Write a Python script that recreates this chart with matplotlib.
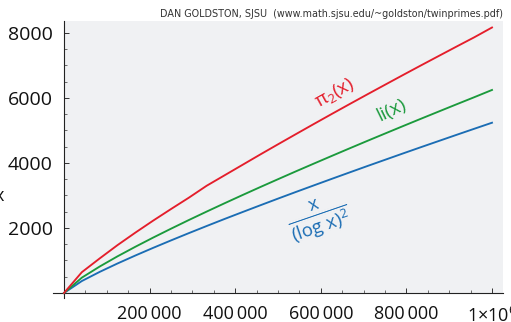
import matplotlib
matplotlib.use("Agg")
import matplotlib.pyplot as plt
from matplotlib.patches import Rectangle
from matplotlib.ticker import MultipleLocator, FixedLocator

# Sample points: x = k * 10^6 / 24, k = 0..24
x_vals = [0, 41667, 83333, 125000, 166667, 208333, 250000, 291667, 333333,
          375000, 416667, 458333, 500000, 541667, 583333, 625000, 666667,
          708333, 750000, 791667, 833333, 875000, 916667, 958333, 1000000]

# twin prime counting function pi_2(x)
pi2_vals = [0, 640, 1063, 1473, 1857, 2227, 2583, 2932, 3300, 3620, 3940,
            4260, 4575, 4887, 5197, 5504, 5808, 6109, 6407, 6704, 6998,
            7289, 7579, 7866, 8169]

# integral of dt/(log t)^2 from 2 to x
li_vals = [0, 472, 814, 1128, 1422, 1705, 1978, 2245, 2505, 2760, 3011,
           3258, 3501, 3742, 3979, 4214, 4447, 4678, 4906, 5133, 5358,
           5581, 5803, 6023, 6247]

# x / (log x)^2
xlog_vals = [0, 368, 649, 908, 1153, 1389, 1618, 1842, 2061, 2277, 2488,
             2697, 2904, 3108, 3309, 3509, 3707, 3904, 4098, 4292, 4484,
             4674, 4864, 5052, 5239]

y_ticks = [2000, 4000, 6000, 8000]
y_tick_labels = ["2000", "4000", "6000", "8000"]
x_ticks = [200000, 400000, 600000, 800000, 1000000]
x_tick_labels = ["200\u2009000", "400\u2009000", "600\u2009000", "800\u2009000",
                 r"$1{\times}10^6$"]

RED = "#e41e2b"
GREEN = "#1b9a3c"
BLUE = "#1b6db4"
PANEL = "#f0f1f3"

plt.rcParams["font.family"] = ["Open Sans", "DejaVu Sans"]
plt.rcParams["mathtext.fontset"] = "custom"
plt.rcParams["mathtext.rm"] = "Open Sans"
plt.rcParams["mathtext.it"] = "Open Sans"
plt.rcParams["mathtext.bf"] = "Open Sans:bold"

W, H = 511, 322
fig = plt.figure(figsize=(W / 100, H / 100), dpi=100)
ax = fig.add_axes([53 / W, (H - 298) / H, (503 - 53) / W, (298 - 21) / H])

xmin, xmax = -25700, 1025700
ymin, ymax = -154, 8369
ax.set_xlim(xmin, xmax)
ax.set_ylim(ymin, ymax)
ax.set_facecolor("white")
ax.add_patch(Rectangle((0, 0), xmax, ymax, facecolor=PANEL, edgecolor="none", zorder=0))

lw = 1.35
ax.plot(x_vals, xlog_vals, color=BLUE, lw=lw, zorder=3)
ax.plot(x_vals, li_vals, color=GREEN, lw=lw, zorder=3)
ax.plot(x_vals, pi2_vals, color=RED, lw=lw, zorder=3)

for side in ("top", "right"):
    ax.spines[side].set_visible(False)
ax.spines["left"].set_position(("data", 0))
ax.spines["bottom"].set_position(("data", 0))
for side in ("left", "bottom"):
    ax.spines[side].set_linewidth(0.8)
    ax.spines[side].set_color("#222222")

ax.yaxis.set_major_locator(FixedLocator(y_ticks))
ax.set_yticklabels(y_tick_labels)
ax.yaxis.set_minor_locator(MultipleLocator(500))
ax.xaxis.set_major_locator(FixedLocator(x_ticks))
ax.set_xticklabels(x_tick_labels)
ax.xaxis.set_minor_locator(MultipleLocator(50000))

ax.tick_params(axis="both", which="major", direction="in", length=3.5, width=0.7,
               color="#333333", labelsize=13, labelcolor="#111111")
ax.tick_params(axis="y", which="major", labelsize=14, pad=8)
ax.tick_params(axis="both", which="minor", direction="in", length=2.2, width=0.6,
               color="#555555")
ax.tick_params(axis="x", which="major", pad=9)

# curve labels
ax.text(633000, 6150, r"$\pi_2(x)$", color=RED, fontsize=13.5, rotation=29,
        ha="center", va="center")
ax.text(766000, 5630, "li(x)", color=GREEN, fontsize=13.5, rotation=26,
        ha="center", va="center")
ax.text(595000, 2300, r"$\frac{x}{(\log\,x)^2}$", color=BLUE, fontsize=19,
        rotation=19, ha="center", va="center")

# y-axis label at the left edge
fig.text(4 / W, 1 - 196 / H, "x", ha="right", va="center", fontsize=13,
         color="#111111")

# source credit
fig.text(503 / W, 1 - 14 / H,
         "DAN GOLDSTON, SJSU  (www.math.sjsu.edu/~goldston/twinprimes.pdf)",
         ha="right", va="center", fontsize=6.9, color="#333333",
         family=["DejaVu Sans"])

fig.savefig("out.png", dpi=100)
